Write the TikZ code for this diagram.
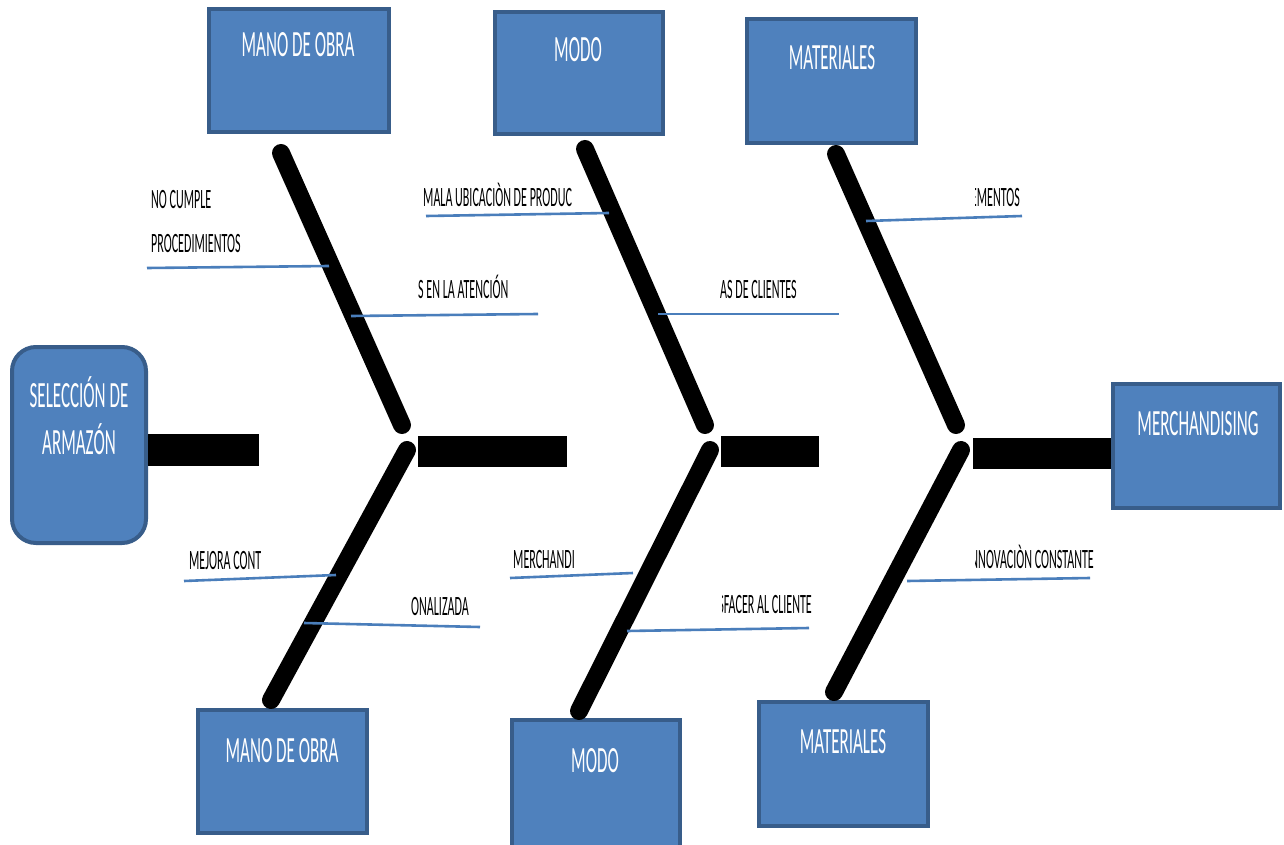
\documentclass[tikz,border=0pt]{standalone}
\usepackage{fontspec}
\newfontfamily\cfont[FakeStretch=0.46]{Carlito}
\newfontfamily\sfont[FakeStretch=0.43]{Carlito}
\definecolor{boxblue}{HTML}{4F81BD}
\definecolor{boxedge}{HTML}{385D8A}
\definecolor{causeblue}{HTML}{4A7EBB}
\tikzset{
  catbox/.style={draw=boxedge, fill=boxblue, line width=4pt, inner sep=0pt},
  bigtxt/.style={anchor=base, text=white, inner sep=0pt, font=\cfont\fontsize{37}{47}\selectfont},
  smalltxt/.style={inner sep=0pt, font=\sfont\fontsize{28}{32}\selectfont},
  bone/.style={line width=18pt, line cap=round},
  spine/.style={fill=black},
  cause/.style={draw=causeblue, line width=2.6pt},
}
\begin{document}
\begin{tikzpicture}[x=1pt,y=-1pt]
\useasboundingbox (0,0) rectangle (1284,845);
\fill[white] (0,0) rectangle (1284,845);

% category boxes
\node[catbox, minimum width=180pt, minimum height=123pt] (mo1) at (299,70.5) {};
\node[catbox, minimum width=168pt, minimum height=122pt] (modo1) at (579,73) {};
\node[catbox, minimum width=169pt, minimum height=124pt] (mat1) at (831.5,81) {};
\node[catbox, minimum width=169pt, minimum height=123pt] (mo2) at (282.5,771.5) {};
\node[catbox, minimum width=168pt, minimum height=128pt] (modo2) at (596,784) {};
\node[catbox, minimum width=169pt, minimum height=124pt] (mat2) at (843.5,764) {};
\node[catbox, rounded corners=24pt, minimum width=134pt, minimum height=196pt] (sel) at (79,445) {};
\node[catbox, minimum width=167pt, minimum height=124pt] (mer) at (1196.5,446) {};

% box captions
\node[bigtxt] (tmo1) at (298,57) {MANO DE OBRA};
\node[bigtxt] (tmodo1) at (578,62) {MODO};
\node[bigtxt] (tmat1) at (832,70) {MATERIALES};
\node[bigtxt] (tmo2) at (282,762) {MANO DE OBRA};
\node[bigtxt] (tmodo2) at (595,772) {MODO};
\node[bigtxt] (tmat2) at (843,753) {MATERIALES};
\node[bigtxt] (tmer) at (1198,435) {MERCHANDISING};
\node[bigtxt] (tsel1) at (79,407) {SELECCIÓN DE};
\node[bigtxt] (tsel2) at (79,454) {ARMAZÓN};

% spine pieces
\coordinate (s1a) at (148,434); \coordinate (s1b) at (259,466);
\coordinate (s2a) at (418,436); \coordinate (s2b) at (567,467);
\coordinate (s3a) at (721,436); \coordinate (s3b) at (819,467);
\coordinate (s4a) at (973,438); \coordinate (s4b) at (1111,469);
\fill[spine] (s1a) rectangle (s1b);
\fill[spine] (s2a) rectangle (s2b);
\fill[spine] (s3a) rectangle (s3b);
\fill[spine] (s4a) rectangle (s4b);

% bones
\coordinate (u1t) at (281,153); \coordinate (u1j) at (402,425);
\coordinate (l1j) at (407,450); \coordinate (l1b) at (271,700);
\coordinate (u2t) at (585,149); \coordinate (u2j) at (705,425);
\coordinate (l2j) at (710,450); \coordinate (l2b) at (579,711);
\coordinate (u3t) at (836,154); \coordinate (u3j) at (956,425);
\coordinate (l3j) at (961,450); \coordinate (l3b) at (834,692);
\draw[bone] (u1t) -- (u1j);
\draw[bone] (l1j) -- (l1b);
\draw[bone] (u2t) -- (u2j);
\draw[bone] (l2j) -- (l2b);
\draw[bone] (u3t) -- (u3j);
\draw[bone] (l3j) -- (l3b);

% cause lines
\coordinate (c1a) at (147,268); \coordinate (c1b) at (329,266);
\coordinate (c2a) at (351,316); \coordinate (c2b) at (538,314);
\coordinate (c3a) at (426,216); \coordinate (c3b) at (609,213);
\coordinate (c4a) at (658,314); \coordinate (c4b) at (839,314);
\coordinate (c5a) at (866,221); \coordinate (c5b) at (1022,216);
\coordinate (c6a) at (184,581); \coordinate (c6b) at (336,575);
\coordinate (c7a) at (304,623); \coordinate (c7b) at (480,627);
\coordinate (c8a) at (510,578); \coordinate (c8b) at (633,573);
\coordinate (c9a) at (627,631); \coordinate (c9b) at (809,628);
\coordinate (c10a) at (907,581); \coordinate (c10b) at (1090,578);
\foreach \i in {1,...,10} {\draw[cause] (c\i a) -- (c\i b);}

% cause texts
\node[smalltxt, anchor=base west] (k1) at (151,208) {NO CUMPLE};
\node[smalltxt, anchor=base west] (k2) at (151,252) {PROCEDIMIENTOS};
\node[smalltxt, anchor=base west] (k3) at (418,298) {S EN LA ATENCIÓN};
\node[smalltxt, anchor=base west] (k4) at (423,207) {MALA UBICACIÒN DE PRODUC};
\node[smalltxt, anchor=base west] (k5) at (720,298) {AS DE CLIENTES};
\begin{scope}
  \clip (975,170) rectangle (1060,212);
  \node[smalltxt, anchor=base east] (k6) at (1020,207) {EMENTOS};
\end{scope}
\node[smalltxt, anchor=base west] (k7) at (189,569) {MEJORA CONT};
\node[smalltxt, anchor=base west] (k8) at (411,615) {ONALIZADA};
\begin{scope}
  \clip (500,530) rectangle (574,572);
  \node[smalltxt, anchor=base west] (k9) at (513,568) {MERCHANDI};
\end{scope}
\begin{scope}
  \clip (722,580) rectangle (830,620);
  \node[smalltxt, anchor=base east] (k10) at (812,613) {SFACER AL CLIENTE};
\end{scope}
\begin{scope}
  \clip (975,535) rectangle (1110,573);
  \node[smalltxt, anchor=base east] (k11) at (1094,568) {NNOVACIÒN CONSTANTE};
\end{scope}
\end{tikzpicture}
\end{document}
